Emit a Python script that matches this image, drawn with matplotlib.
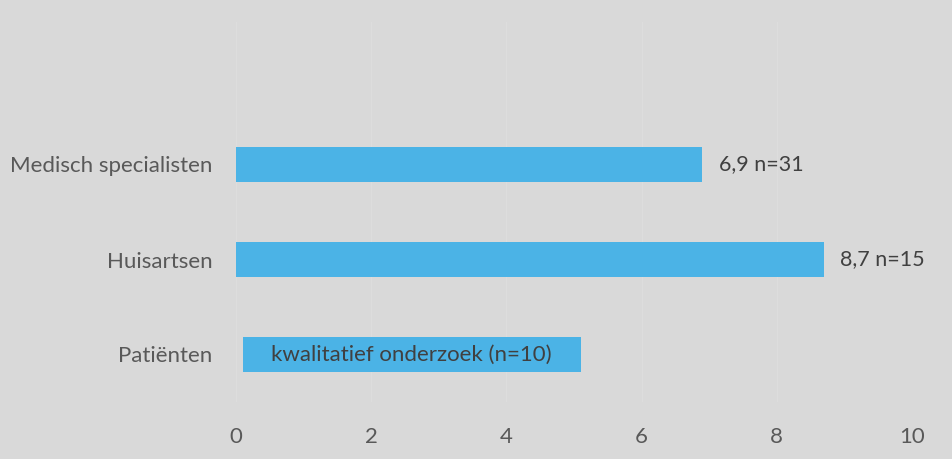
import matplotlib.pyplot as plt

# ==================================
# DATA
# ==================================

categories = ['Patiënten', 'Huisartsen', 'Medisch specialisten']
bar_start = [0.1, 0.0, 0.0]
bar_value = [5.0, 8.7, 6.9]
bar_labels = ['kwalitatief onderzoek (n=10)', '8,7 n=15', '6,9 n=31']
label_inside = [True, False, False]
xticks = [0, 2, 4, 6, 8, 10]

BG = '#D9D9D9'
BAR = '#4BB3E6'

plt.rcParams['font.family'] = ['Lato', 'DejaVu Sans']

# ==================================
# FIGURE
# ==================================

fig = plt.figure(figsize=(9.52, 4.59), dpi=100, facecolor=BG)
ax = fig.add_axes([236 / 952, 57 / 459, 676 / 952, 380 / 459], facecolor=BG)

ypos = list(range(len(categories)))
ax.barh(ypos, bar_value, left=bar_start, height=0.36, color=BAR, zorder=3)

for y, s, v, lab, inside in zip(ypos, bar_start, bar_value, bar_labels, label_inside):
    if inside:
        ax.text(s + v / 2, y, lab, ha='center', va='center',
                fontsize=16, color='#404040', zorder=4)
    else:
        ax.text(s + v + 0.24, y, lab, ha='left', va='center',
                fontsize=15.5, color='#404040', zorder=4)

ax.set_xlim(0, 10)
ax.set_ylim(-0.5, 3.5)
ax.set_xticks(xticks)
ax.set_xticklabels([str(t) for t in xticks])
ax.set_yticks(ypos)
ax.set_yticklabels(categories)

ax.tick_params(axis='both', length=0, labelsize=16, labelcolor='#595959')
ax.tick_params(axis='x', pad=18)
ax.tick_params(axis='y', pad=17)

ax.grid(axis='x', color='#DDDDDD', linewidth=0.8, zorder=0)
for sp in ax.spines.values():
    sp.set_visible(False)

fig.savefig('out.png', dpi=100, facecolor=BG)
